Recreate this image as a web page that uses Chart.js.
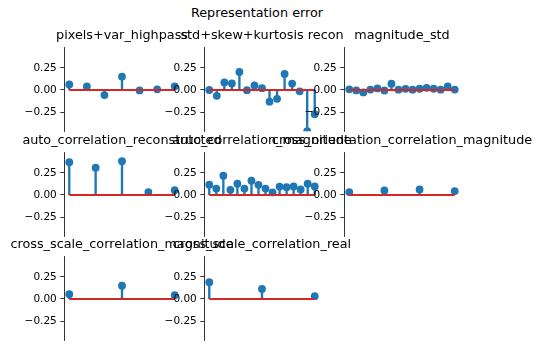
<!DOCTYPE html>
<html>
<head>
<meta charset="utf-8">
<script src="https://cdn.jsdelivr.net/npm/chart.js@4.4.0/dist/chart.umd.min.js"></script>
<style>
  body { margin: 0; background: #fff; }
  #fig { position: relative; width: 542px; height: 350px; overflow: hidden; font-family: 'DejaVu Sans', sans-serif; }
  #fig canvas { position: absolute; }
  .title { position: absolute; white-space: nowrap; font-size: 12.8px; line-height: 1; color: #000; transform: translateX(-50%); }
</style>
</head>
<body>
<div id="fig"></div>
<script>
// values
const suptitle = 'Representation error';
const titles = [
  'pixels+var_highpass', 'std+skew+kurtosis recon', 'magnitude_std',
  'auto_correlation_reconstructed', 'auto_correlation_magnitude', 'cross_orientation_correlation_magnitude',
  'cross_scale_correlation_magnitude', 'cross_scale_correlation_real'
];
const pixelsVarHighpass = [0.062, 0.040, -0.058, 0.152, -0.005, 0.008, 0.041];
const stdSkewKurtosis = [0.000, -0.066, 0.085, 0.074, 0.204, -0.002, 0.052, 0.020, -0.133, -0.100, 0.181, 0.073, -0.015, -0.467, -0.275];
const magnitudeStd = [0.007, -0.005, -0.028, 0.005, 0.018, -0.006, 0.072, 0.004, 0.013, 0.004, 0.014, 0.024, 0.014, 0.004, 0.040, 0.005];
const autoCorrRecon = [0.371, 0.309, 0.382, 0.033, 0.055];
const autoCorrMag = [0.117, 0.073, 0.218, 0.059, 0.128, 0.073, 0.162, 0.115, 0.073, 0.029, 0.095, 0.088, 0.096, 0.063, 0.128, 0.097];
const crossOrientCorrMag = [0.033, 0.051, 0.062, 0.044];
const crossScaleCorrMag = [0.054, 0.150, 0.043];
const crossScaleCorrReal = [0.190, 0.114, 0.032];
const yTicks = [-0.25, 0, 0.25];
const yMin = -0.467, yMax = 0.478;

const series = [pixelsVarHighpass, stdSkewKurtosis, magnitudeStd, autoCorrRecon,
  autoCorrMag, crossOrientCorrMag, crossScaleCorrMag, crossScaleCorrReal];

// layout (pixels)
const colLeft = [64, 204, 344];
const rowTop = [46, 151, 255];
const axW = 116, axH = 87;
const blue = '#1f77b4', red = '#d62728';

const fig = document.getElementById('fig');

function fmt(v) {
  return (v < 0 ? '\u2212' : '') + Math.abs(v).toFixed(2);
}

function addText(txt, cx, baseline) {
  const d = document.createElement('div');
  d.className = 'title';
  d.textContent = txt;
  d.style.left = cx + 'px';
  d.style.top = (baseline - 10.8) + 'px';
  fig.appendChild(d);
}

addText(suptitle, 257, 18);

series.forEach(function(values, idx) {
  const r = Math.floor(idx / 3), c = idx % 3;
  const padL = 50, padT = 8, padR = 8, padB = 8;
  const canvas = document.createElement('canvas');
  canvas.width = padL + axW + padR;
  canvas.height = padT + axH + padB;
  canvas.style.left = (colLeft[c] - padL) + 'px';
  canvas.style.top = (rowTop[r] - padT) + 'px';
  fig.appendChild(canvas);

  addText(titles[idx], colLeft[c] + axW / 2, rowTop[r] - 6.4);

  const n = values.length;
  const pts = values.map((v, i) => ({ x: i, y: v }));

  new Chart(canvas, {
    type: 'bar',
    data: {
      datasets: [
        { type: 'line', data: [{ x: 0, y: 0 }, { x: n - 1, y: 0 }], borderColor: red, borderWidth: 2, pointRadius: 0, order: 0 },
        { type: 'scatter', data: pts, pointRadius: 3.9, backgroundColor: blue, borderWidth: 0, order: 1 },
        { type: 'bar', data: pts, backgroundColor: blue, borderWidth: 0, barThickness: 1.7, order: 2 }
      ]
    },
    options: {
      responsive: false,
      animation: false,
      layout: { padding: { left: 0, top: padT, right: padR, bottom: padB } },
      plugins: { legend: { display: false }, tooltip: { enabled: false } },
      scales: {
        x: { type: 'linear', display: false, offset: false, min: -0.05 * (n - 1), max: 1.05 * (n - 1) },
        y: {
          type: 'linear', min: yMin, max: yMax,
          afterFit: function(s) { s.width = padL; },
          afterBuildTicks: function(s) { s.ticks = yTicks.map(v => ({ value: v })); },
          ticks: { callback: v => fmt(v), color: '#000', font: { family: 'DejaVu Sans', size: 10.5 }, padding: 3.5 },
          grid: { drawOnChartArea: false, drawTicks: true, tickLength: 3.7, color: '#000', lineWidth: 0.8 },
          border: { display: true, color: '#000', width: 0.8 }
        }
      }
    }
  });
});
</script>
</body>
</html>
